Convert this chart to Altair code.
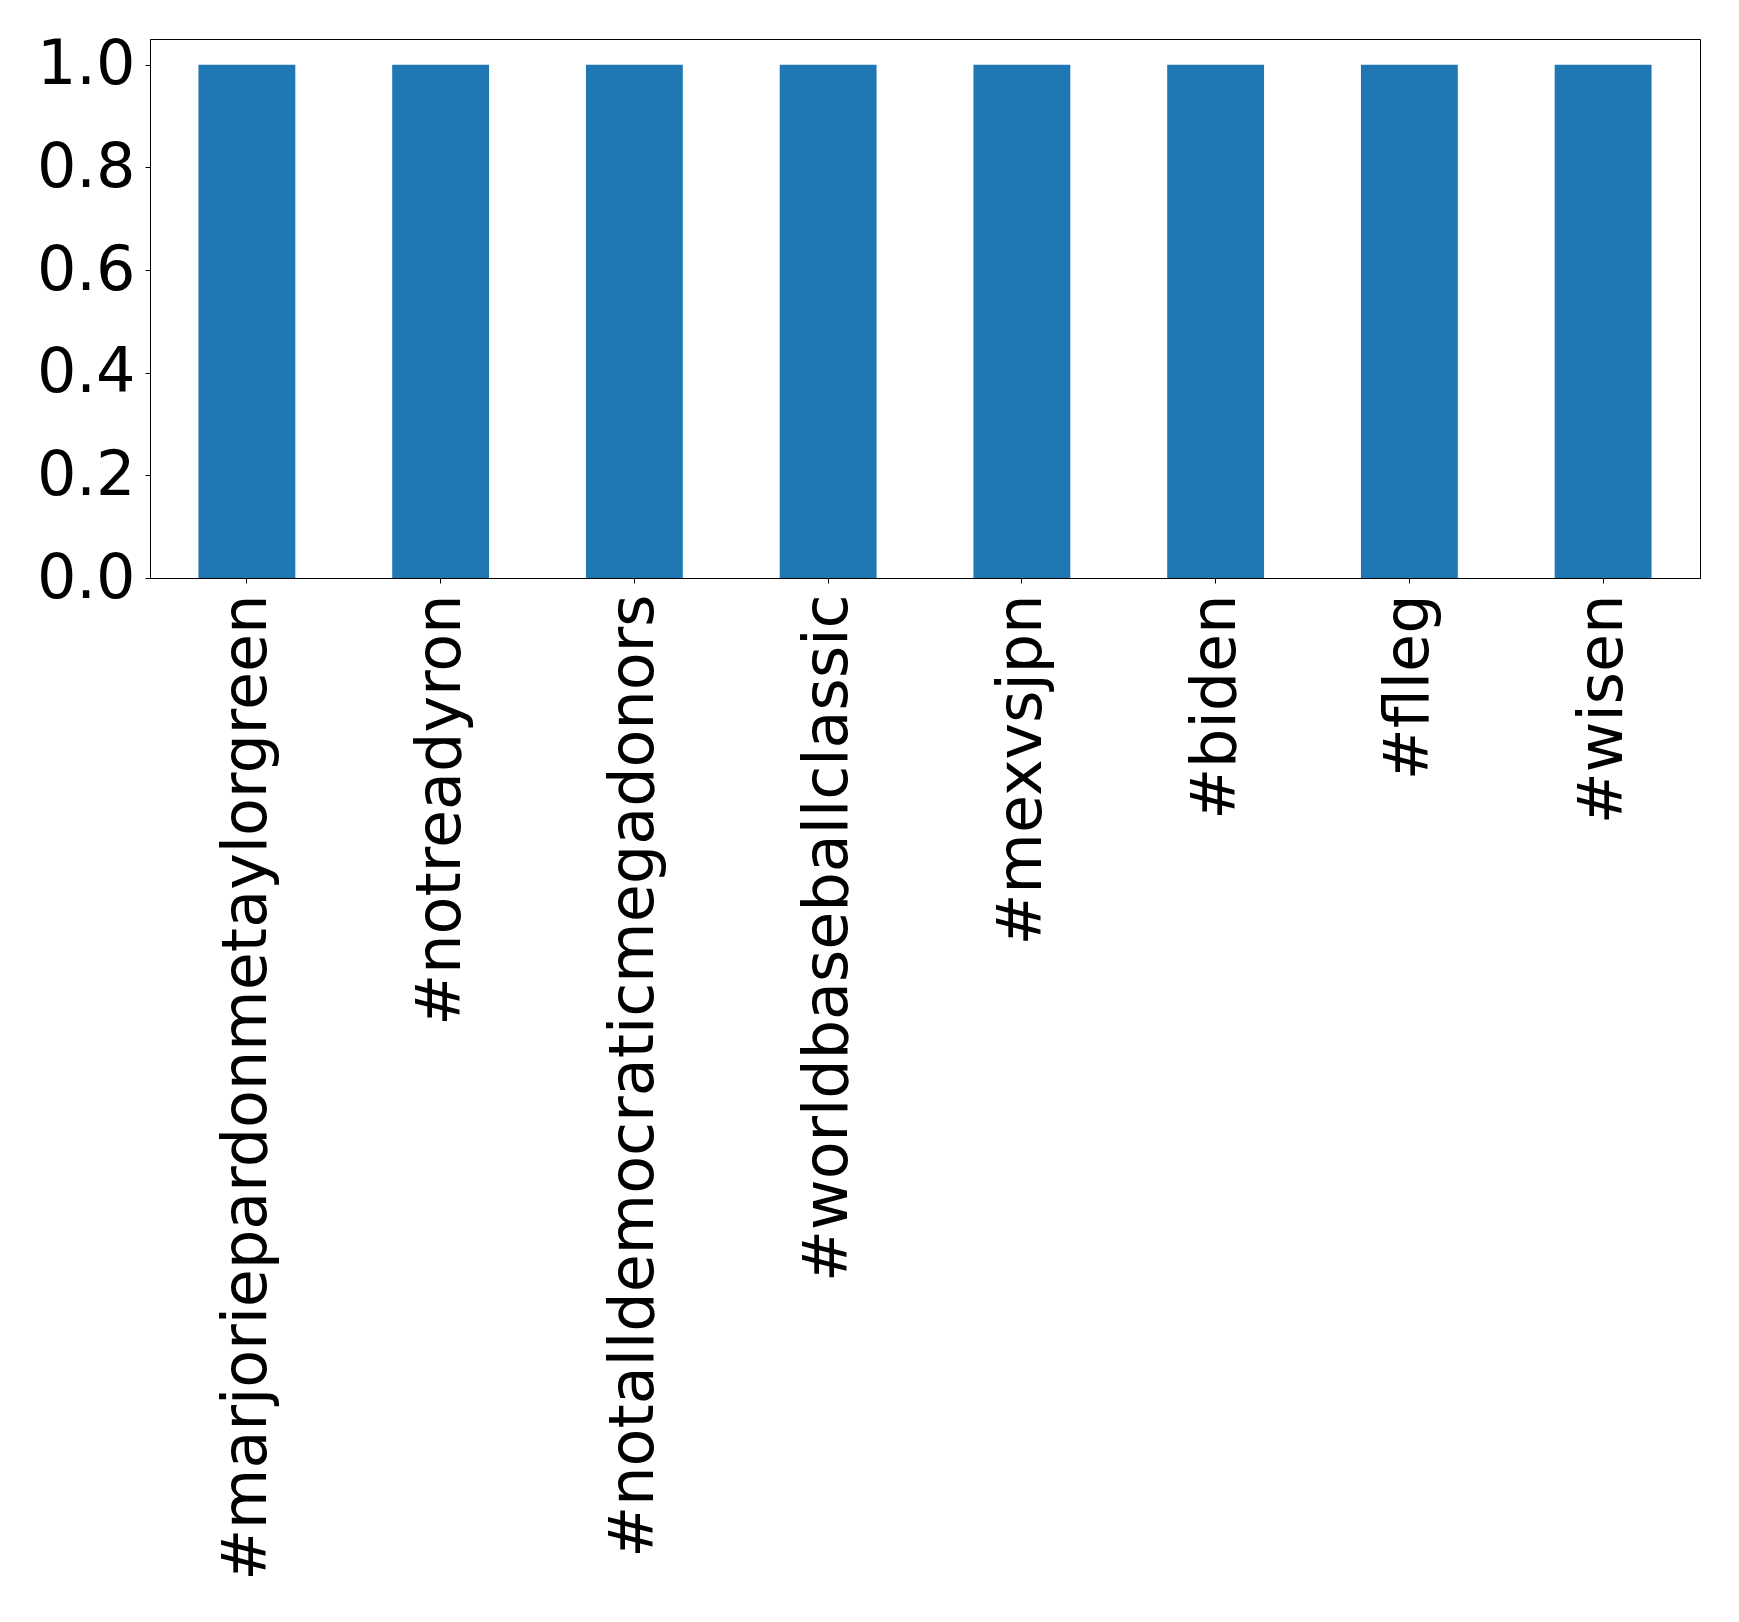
import altair as alt
import pandas as pd

# -----------------------------
# HASHTAG COUNTS
# -----------------------------
hashtags = [
    "#marjoriepardonmetaylorgreen",
    "#notreadyron",
    "#notalldemocraticmegadonors",
    "#worldbaseballclassic",
    "#mexvsjpn",
    "#biden",
    "#flleg",
    "#wisen",
]
counts = [1, 1, 1, 1, 1, 1, 1, 1]

df = pd.DataFrame({"tag": hashtags, "count": counts})

FONT = "DejaVu Sans"
SIZE = 62

chart = (
    alt.Chart(df)
    .mark_bar(color="#1f77b4")
    .encode(
        x=alt.X(
            "tag:N",
            sort=hashtags,
            title=None,
            scale=alt.Scale(paddingInner=0.5, paddingOuter=0.25),
            axis=alt.Axis(
                labelAngle=-90,
                labelAlign="right",
                labelBaseline="middle",
                labelPadding=11,
                tickSize=5,
                labelLimit=0,
            ),
        ),
        y=alt.Y(
            "count:Q",
            title=None,
            scale=alt.Scale(domain=[0, 1.05], nice=False),
            axis=alt.Axis(
                values=[0, 0.2, 0.4, 0.6, 0.8, 1.0],
                format=".1f",
                tickSize=5,
                labelPadding=10,
            ),
        ),
    )
    .properties(
        width=1550,
        height=539,
        autosize=alt.AutoSizeParams(type="none"),
        padding={"left": 142, "top": 31, "right": 30, "bottom": 1030},
    )
    .configure_view(stroke="black", strokeWidth=1)
    .configure_axis(
        grid=False,
        domainColor="black",
        tickColor="black",
        labelColor="black",
        labelFont=FONT,
        labelFontSize=SIZE,
        domainWidth=1,
        tickWidth=1,
    )
)

chart.save("out.html", embed_options={"renderer": "svg", "actions": False})
